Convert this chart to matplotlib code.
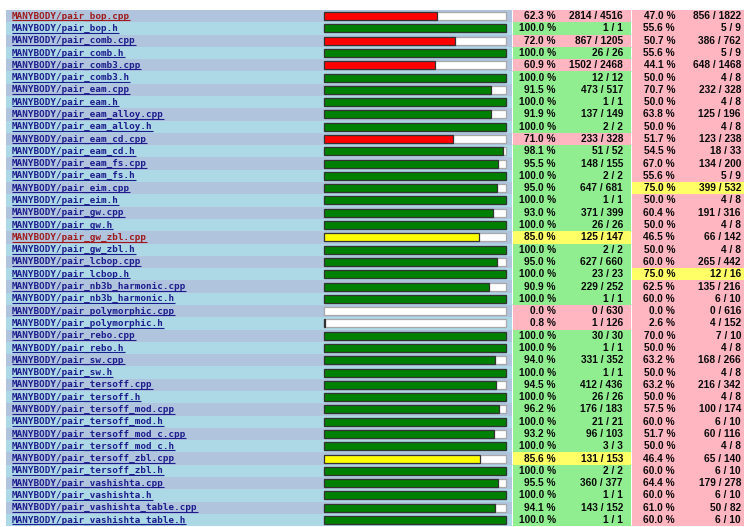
import matplotlib
matplotlib.use("Agg")
import matplotlib.pyplot as plt

files = ["pair_bop.cpp", "pair_bop.h", "pair_comb.cpp", "pair_comb.h", "pair_comb3.cpp",
         "pair_comb3.h", "pair_eam.cpp", "pair_eam.h", "pair_eam_alloy.cpp", "pair_eam_alloy.h",
         "pair_eam_cd.cpp", "pair_eam_cd.h", "pair_eam_fs.cpp", "pair_eam_fs.h", "pair_eim.cpp",
         "pair_eim.h", "pair_gw.cpp", "pair_gw.h", "pair_gw_zbl.cpp", "pair_gw_zbl.h",
         "pair_lcbop.cpp", "pair_lcbop.h", "pair_nb3b_harmonic.cpp", "pair_nb3b_harmonic.h",
         "pair_polymorphic.cpp", "pair_polymorphic.h", "pair_rebo.cpp", "pair_rebo.h",
         "pair_sw.cpp", "pair_sw.h", "pair_tersoff.cpp", "pair_tersoff.h", "pair_tersoff_mod.cpp",
         "pair_tersoff_mod.h", "pair_tersoff_mod_c.cpp", "pair_tersoff_mod_c.h",
         "pair_tersoff_zbl.cpp", "pair_tersoff_zbl.h", "pair_vashishta.cpp", "pair_vashishta.h",
         "pair_vashishta_table.cpp", "pair_vashishta_table.h"]
prefix = "MANYBODY/"
line_pct = [62.3, 100.0, 72.0, 100.0, 60.9, 100.0, 91.5, 100.0, 91.9, 100.0,
            71.0, 98.1, 95.5, 100.0, 95.0, 100.0, 93.0, 100.0, 85.0, 100.0,
            95.0, 100.0, 90.9, 100.0, 0.0, 0.8, 100.0, 100.0, 94.0, 100.0,
            94.5, 100.0, 96.2, 100.0, 93.2, 100.0, 85.6, 100.0, 95.5, 100.0,
            94.1, 100.0]
line_hit = [2814, 1, 867, 26, 1502, 12, 473, 1, 137, 2, 233, 51, 148, 2, 647, 1, 371, 26,
            125, 2, 627, 23, 229, 1, 0, 1, 30, 1, 331, 1, 412, 26, 176, 21, 96, 3, 131, 2,
            360, 1, 143, 1]
line_tot = [4516, 1, 1205, 26, 2468, 12, 517, 1, 149, 2, 328, 52, 155, 2, 681, 1, 399, 26,
            147, 2, 660, 23, 252, 1, 630, 126, 30, 1, 352, 1, 436, 26, 183, 21, 103, 3, 153, 2,
            377, 1, 152, 1]
func_pct = [47.0, 55.6, 50.7, 55.6, 44.1, 50.0, 70.7, 50.0, 63.8, 50.0,
            51.7, 54.5, 67.0, 55.6, 75.0, 50.0, 60.4, 50.0, 46.5, 50.0,
            60.0, 75.0, 62.5, 60.0, 0.0, 2.6, 70.0, 50.0, 63.2, 50.0,
            63.2, 50.0, 57.5, 60.0, 51.7, 50.0, 46.4, 60.0, 64.4, 60.0,
            61.0, 60.0]
func_hit = [856, 5, 386, 5, 648, 4, 232, 4, 125, 4, 123, 18, 134, 5, 399, 4, 191, 4, 66, 4,
            265, 12, 135, 6, 0, 4, 7, 4, 168, 4, 216, 4, 100, 6, 60, 4, 65, 6, 179, 6, 50, 6]
func_tot = [1822, 9, 762, 9, 1468, 8, 328, 8, 196, 8, 238, 33, 200, 9, 532, 8, 316, 8, 142, 8,
            442, 16, 216, 10, 616, 152, 10, 8, 266, 8, 342, 8, 174, 10, 116, 8, 140, 10, 278, 10,
            82, 10]
red_names = ["pair_bop.cpp", "pair_gw_zbl.cpp"]

W, H = 745, 527
ROW_H = 12.29
TOP = 10.0
n = len(files)

fig = plt.figure(figsize=(W / 100, H / 100), dpi=100)
ax = fig.add_axes([0, 0, 1, 1])
ax.set_xlim(0, W)
ax.set_ylim((H - TOP) / ROW_H, -TOP / ROW_H)
ax.axis("off")

bx = fig.add_axes([324 / W, 0, 182 / W, 1])
bx.set_xlim(0, 100)
bx.set_ylim((H - TOP) / ROW_H, -TOP / ROW_H)
bx.axis("off")
bx.patch.set_alpha(0)


def cell_color(p, hi=90, mid=75):
    if p >= hi:
        return "#90ee90"
    if p >= mid:
        return "#ffff66"
    return "#ffb6c1"


def bar_color(p):
    if p >= 90:
        return "#008000"
    if p >= 75:
        return "#ffff00"
    return "#ff0000"


ys = [i + 0.5 for i in range(n)]
row_bg = ["#b0c4de" if i % 2 == 0 else "#add8e6" for i in range(n)]
ax.barh(ys, [512 - 6] * n, left=6, height=1.0, color=row_bg, linewidth=0)
ax.barh(ys, [631 - 513] * n, left=513, height=1.0,
        color=[cell_color(p) for p in line_pct], linewidth=0)
ax.barh(ys, [744 - 632] * n, left=632, height=1.0,
        color=[cell_color(p) for p in func_pct], linewidth=0)

bh = 8.0 / ROW_H
bx.barh(ys, [100] * n, height=bh, color="white", edgecolor="#a8a8a8",
        linewidth=0.9, clip_on=False)
bx.barh(ys, line_pct, height=bh, color=[bar_color(p) for p in line_pct],
        edgecolor="#333333", linewidth=[0.9 if p > 0 else 0 for p in line_pct],
        clip_on=False)

num_font = dict(family="Liberation Sans", weight="bold", fontsize=7.3, color="#0a0a0a",
                va="center", ha="right")
name_texts = []
for i, f in enumerate(files):
    y = ys[i]
    col = "#9e1a1a" if f in red_names else "#1c1c8c"
    t = ax.text(12, y, prefix + f, family="DejaVu Sans Mono", weight="bold",
                fontsize=6.7, color=col, va="center", ha="left")
    name_texts.append((t, col, y))
    ax.text(556, y, f"{line_pct[i]:.1f} %", **num_font)
    ax.text(623, y, f"{line_hit[i]} / {line_tot[i]}", **num_font)
    ax.text(675, y, f"{func_pct[i]:.1f} %", **num_font)
    ax.text(741, y, f"{func_hit[i]} / {func_tot[i]}", **num_font)

fig.canvas.draw()
r = fig.canvas.get_renderer()
inv = ax.transData.inverted()
for t, col, y in name_texts:
    bb = t.get_window_extent(renderer=r)
    x0, _ = inv.transform((bb.x0, bb.y0))
    x1, _ = inv.transform((bb.x1, bb.y0))
    ax.plot([x0, x1], [y + 0.34, y + 0.34], color=col, linewidth=0.8,
            solid_capstyle="butt")

fig.savefig("out.png", dpi=100)
